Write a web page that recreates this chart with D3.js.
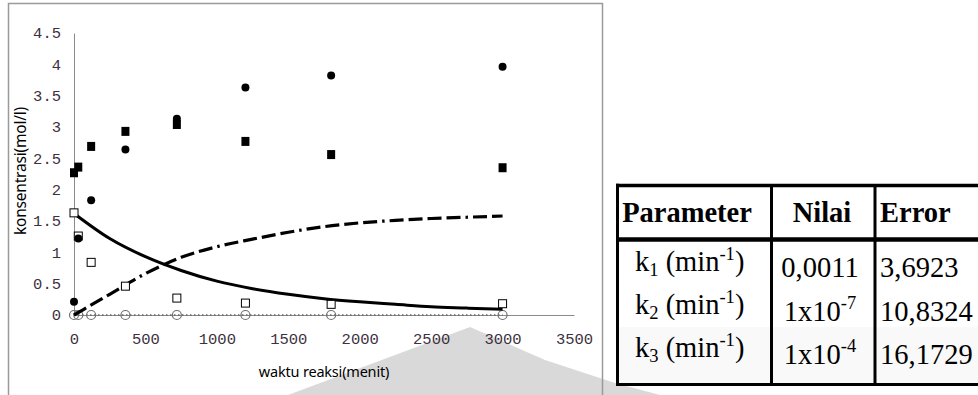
<!DOCTYPE html>
<html>
<head>
<meta charset="utf-8">
<script src="https://cdn.jsdelivr.net/npm/d3@7"></script>
<style>
  body { margin: 0; background: #fff; }
  svg { display: block; }
</style>
</head>
<body>
<svg id="chart" width="978" height="395"></svg>
<script>
var time = [0, 30, 120, 360, 720, 1200, 1800, 3000];
var filledCircle = [0.21, 1.22, 1.83, 2.64, 3.13, 3.63, 3.82, 3.96];
var filledSquare = [2.27, 2.36, 2.69, 2.93, 3.04, 2.77, 2.56, 2.35];
var openSquare = [1.63, 1.26, 0.84, 0.46, 0.27, 0.19, 0.17, 0.18];
var openCircle = [0, 0, 0, 0, 0, 0, 0, 0];

// model curves at these times
var modelTime = [0, 250, 500, 750, 1000, 1250, 1500, 1750, 2000, 2250, 2500, 2750, 3000];
var modelSolid = [1.62, 1.22, 0.93, 0.71, 0.54, 0.42, 0.33, 0.26, 0.21, 0.17, 0.13, 0.11, 0.09];
var modelDash = [0, 0.33, 0.66, 0.92, 1.09, 1.21, 1.32, 1.41, 1.47, 1.51, 1.54, 1.56, 1.58];

var xTicks = [0, 500, 1000, 1500, 2000, 2500, 3000, 3500];
var yTicks = [0, 0.5, 1, 1.5, 2, 2.5, 3, 3.5, 4, 4.5];

// table
var tableHeader = ["Parameter", "Nilai", "Error"];
var paramSub = ["1", "2", "3"];
var nilaiBase = ["0,0011", "1x10", "1x10"];
var nilaiExp = ["", "-7", "-4"];
var errors = ["3,6923", "10,8324", "16,1729"];

var svg = d3.select("#chart");

// watermark shape behind everything
svg.append("path")
  .attr("d", "M288,395 L470,327 L545,360 L615,383 L660,395 Z")
  .attr("fill", "#d9d9d9");

// chart frame
svg.append("path")
  .attr("d", "M8.5,395 V3.5 H602.5 V395")
  .attr("fill", "none")
  .attr("stroke", "#9a9a9a")
  .attr("stroke-width", 1.5);

var x = d3.scaleLinear().domain([0, 3500]).range([74, 574]);
var y = d3.scaleLinear().domain([0, 4.5]).range([315, 33]);

var tickFont = "'Liberation Mono', 'DejaVu Sans Mono', monospace";
var tickColor = "#3d3040";

var gy = svg.append("g")
  .attr("transform", "translate(" + x(0) + ",0)")
  .call(d3.axisLeft(y).tickValues(yTicks).tickSize(0).tickSizeOuter(0).tickPadding(13)
    .tickFormat(function(d) { return String(d); }));
gy.select(".domain").attr("stroke", "#8a8a8a");
gy.selectAll("text").style("font-family", tickFont).style("font-size", "15.5px").attr("fill", tickColor);

var gx = svg.append("g")
  .attr("transform", "translate(0," + y(0) + ")")
  .call(d3.axisBottom(x).tickValues(xTicks).tickSize(0).tickSizeOuter(0).tickPadding(18)
    .tickFormat(function(d) { return String(d); }));
gx.select(".domain").attr("stroke", "#8a8a8a");
gx.selectAll("text").style("font-family", tickFont).style("font-size", "15.5px").attr("fill", tickColor);

// axis titles
svg.append("text")
  .attr("x", 324).attr("y", 377)
  .attr("text-anchor", "middle")
  .style("font-family", "'Noto Sans', sans-serif")
  .style("font-size", "14.5px")
  .style("letter-spacing", "-0.2px")
  .text("waktu reaksi(menit)");

svg.append("text")
  .attr("transform", "translate(26,171) rotate(-90)")
  .attr("text-anchor", "middle")
  .style("font-family", "'Noto Sans', sans-serif")
  .style("font-size", "15.5px")
  .style("letter-spacing", "-0.2px")
  .text("konsentrasi(mol/l)");

// dotted line through open circles
var pts = function(arr) { return time.map(function(t, i) { return [t, arr[i]]; }); };
var line = d3.line().x(function(d) { return x(d[0]); }).y(function(d) { return y(d[1]); });

svg.append("path")
  .datum(pts(openCircle))
  .attr("d", line)
  .attr("fill", "none")
  .attr("stroke", "#666")
  .attr("stroke-width", 1.3)
  .attr("stroke-dasharray", "1.5,2.5");

svg.selectAll(".ocirc")
  .data(pts(openCircle))
  .enter().append("circle")
  .attr("class", "ocirc")
  .attr("cx", function(d) { return x(d[0]); })
  .attr("cy", function(d) { return y(d[1]); })
  .attr("r", 4.5)
  .attr("fill", "none")
  .attr("stroke", "#707070")
  .attr("stroke-width", 1.2);

// model curves
var curve = d3.line().curve(d3.curveMonotoneX)
  .x(function(d) { return x(d[0]); }).y(function(d) { return y(d[1]); });

svg.append("path")
  .datum(modelTime.map(function(t, i) { return [t, modelSolid[i]]; }))
  .attr("d", curve)
  .attr("fill", "none")
  .attr("stroke", "#000")
  .attr("stroke-width", 3);

svg.append("path")
  .datum(modelTime.map(function(t, i) { return [t, modelDash[i]]; }))
  .attr("d", curve)
  .attr("fill", "none")
  .attr("stroke", "#000")
  .attr("stroke-width", 3.2)
  .attr("stroke-dasharray", "14,5,14,5,14,5,14,5,2.5,5");

// open squares
svg.selectAll(".osq")
  .data(pts(openSquare))
  .enter().append("rect")
  .attr("class", "osq")
  .attr("x", function(d) { return x(d[0]) - 4; })
  .attr("y", function(d) { return y(d[1]) - 4; })
  .attr("width", 8).attr("height", 8)
  .attr("fill", "#fff")
  .attr("stroke", "#000")
  .attr("stroke-width", 1);

// filled squares
svg.selectAll(".fsq")
  .data(pts(filledSquare))
  .enter().append("rect")
  .attr("class", "fsq")
  .attr("x", function(d) { return x(d[0]) - 4; })
  .attr("y", function(d) { return y(d[1]) - 4.5; })
  .attr("width", 8).attr("height", 9)
  .attr("fill", "#000");

// filled circles
svg.selectAll(".fcirc")
  .data(pts(filledCircle))
  .enter().append("circle")
  .attr("class", "fcirc")
  .attr("cx", function(d) { return x(d[0]); })
  .attr("cy", function(d) { return y(d[1]); })
  .attr("r", 4)
  .attr("fill", "#000");

// ---- table ----
var colX = [616, 771.5, 875, 990];
var rowY = [185.5, 239.5, 384.5];
var tbl = svg.append("g");

tbl.append("rect")
  .attr("x", colX[0]).attr("y", rowY[0])
  .attr("width", colX[3] - colX[0]).attr("height", rowY[2] - rowY[0])
  .attr("fill", "#fff");

var serif = "'Liberation Serif', 'Times New Roman', serif";
var fs = "28.5px", fsSmall = "18.5px";

var hx = [687, 822, 880];
var hAnchor = ["middle", "middle", "start"];
tbl.selectAll(".head")
  .data(tableHeader)
  .enter().append("text")
  .attr("class", "head")
  .attr("x", function(d, i) { return hx[i]; })
  .attr("y", 222)
  .attr("text-anchor", function(d, i) { return hAnchor[i]; })
  .style("font-family", serif)
  .style("font-size", fs)
  .style("font-weight", "bold")
  .text(function(d) { return d; });

var paramBase = [271, 314, 357];
var valBase = [277, 321, 364];

paramSub.forEach(function(s, i) {
  var t = tbl.append("text")
    .attr("x", 635).attr("y", paramBase[i])
    .style("font-family", serif).style("font-size", fs);
  t.append("tspan").text("k");
  t.append("tspan").attr("dy", 5).style("font-size", fsSmall).text(s);
  t.append("tspan").attr("dy", -5).text(" (min");
  t.append("tspan").attr("dy", -11).style("font-size", fsSmall).text("-1");
  t.append("tspan").attr("dy", 11).text(")");

  var v = tbl.append("text")
    .attr("x", 820).attr("y", valBase[i])
    .attr("text-anchor", "middle")
    .style("font-family", serif).style("font-size", fs);
  v.append("tspan").text(nilaiBase[i]);
  if (nilaiExp[i]) {
    v.append("tspan").attr("dy", -12).style("font-size", fsSmall).text(nilaiExp[i]);
  }

  tbl.append("text")
    .attr("x", 880).attr("y", valBase[i])
    .style("font-family", serif).style("font-size", fs)
    .text(errors[i]);
});

// faint watermark tint on lower table part
tbl.append("rect")
  .attr("x", colX[0]).attr("y", 327)
  .attr("width", colX[3] - colX[0]).attr("height", rowY[2] - 327)
  .attr("fill", "#000").attr("opacity", 0.022);

// table rules
var rule = function(x1, y1, x2, y2, w) {
  tbl.append("line")
    .attr("x1", x1).attr("y1", y1).attr("x2", x2).attr("y2", y2)
    .attr("stroke", "#000").attr("stroke-width", w);
};
rule(colX[0], rowY[0], 978, rowY[0], 3.5);
rule(colX[0], rowY[1], 978, rowY[1], 4.5);
rule(colX[0], rowY[2], 978, rowY[2], 3);
rule(colX[0] + 1.5, rowY[0] - 1.75, colX[0] + 1.5, rowY[2] + 1.5, 3);
rule(colX[1], rowY[0], colX[1], rowY[2], 3);
rule(colX[2], rowY[0], colX[2], rowY[2], 3);
</script>
</body>
</html>
